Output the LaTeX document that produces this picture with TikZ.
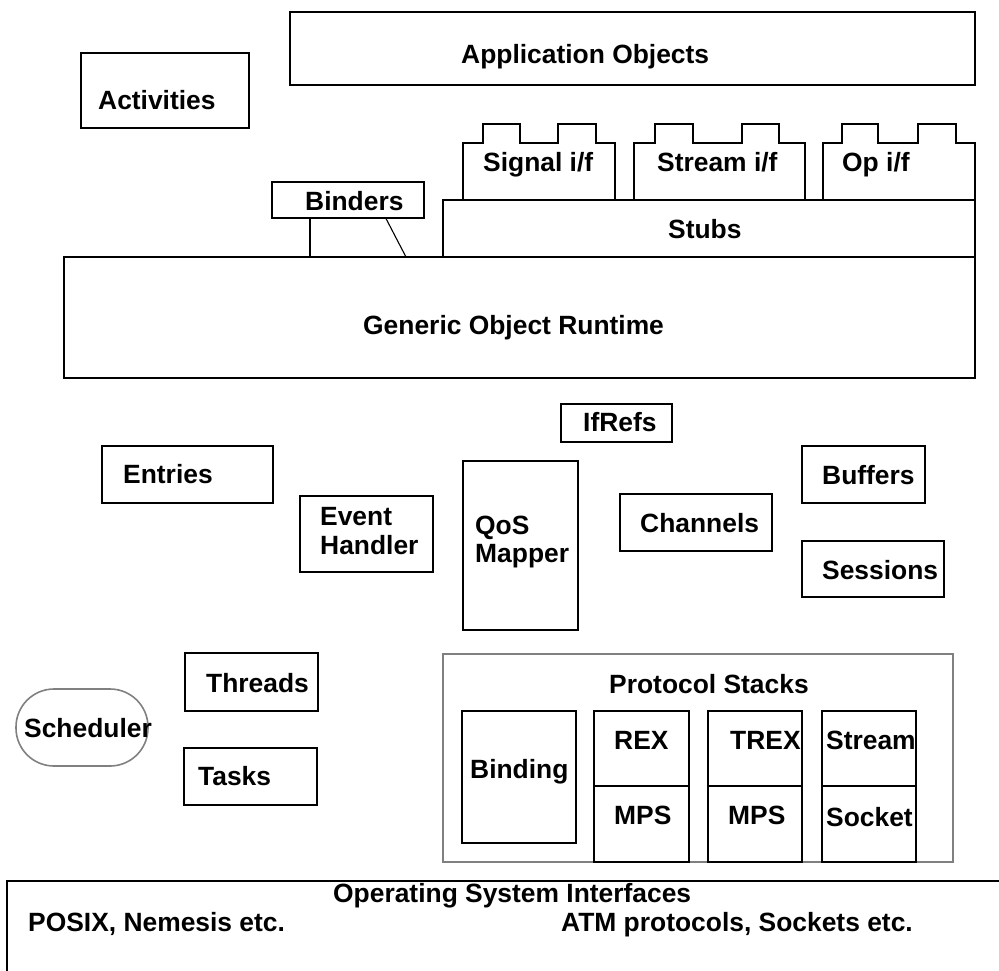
\documentclass[tikz,border=0pt]{standalone}
\usepackage{fontspec}
\setmainfont{Liberation Sans}
\usetikzlibrary{fit}

\begin{document}
\begin{tikzpicture}
[x=1pt,y=-1pt,
  boxDecorate/.style={draw,line width=1.6pt,inner sep=0pt},
  thinDecorate/.style={draw,line width=1.1pt,inner sep=0pt},
  greyDecorate/.style={draw=gray,line width=1.6pt,inner sep=0pt},
  textDecorate/.style={anchor=base west,inner sep=0pt,
    font=\bfseries\fontsize{26.4}{30}\selectfont}]
\clip (0,0) rectangle (999,970);
%% grey frames
\node (protoStacks) [greyDecorate,fit={(443,654) (953,862)}] {};
\node (scheduler) [greyDecorate,rounded corners=38pt,fit={(16,689) (148,766)}] {};
%% boxes
\foreach \boxname/\xa/\ya/\xb/\yb in {
  appObjects/290/12/975/85,
  activities/81/53/249/128,
  generic/64/257/975/378,
  stubs/443/200/975/257,
  ifRefs/561/404/672/442,
  entries/102/446/273/503,
  eventHandler/300/496/433/572,
  qosMapper/463/461/578/630,
  channels/620/494/772/551,
  buffers/802/446/925/503,
  sessions/802/541/944/597,
  threads/185/653/318/711,
  tasks/184/748/317/805,
  binding/462/711/576/843,
  rex/594/711/689/786,
  mpsA/594/786/689/862,
  trex/708/711/802/786,
  mpsB/708/786/802/862,
  streamP/822/711/916/786,
  socket/822/786/916/862,
  osInterfaces/7/881/1010/990}
{
  \node (\boxname) [boxDecorate,fit={(\xa,\ya) (\xb,\yb)}] {};
}
%% interface tabs on the stubs
\foreach \xa/\la/\lb/\lc/\ld/\xb in {
  463/483/520/558/596/615,
  634/655/693/742/779/805,
  823/842/878/918/956/975}
{
  \draw[line width=1.1pt] (\xa,200) -- (\xa,143) -- (\la,143) -- (\la,124)
    -- (\lb,124) -- (\lb,143) -- (\lc,143) -- (\lc,124) -- (\ld,124)
    -- (\ld,143) -- (\xb,143) -- (\xb,200);
}
%% binders flag
\node (binders) [thinDecorate,fit={(272,182) (424,218)}] {};
\draw[line width=1.1pt] (binders.south west -| 310,0) -- (310,257);
\draw[line width=1.1pt] (binders.south west -| 386,0) -- (406,257);
%% labels
\foreach \textname/\x/\y/\words in {
  tApp/461/63/{Application Objects},
  tAct/98/109/{Activities},
  tSignal/483/171/{Signal i/f},
  tStream/657/171/{Stream i/f},
  tOp/842/171/{Op i/f},
  tBinders/305/210/{Binders},
  tStubs/668/238/{Stubs},
  tGeneric/363/334/{Generic Object Runtime},
  tIfRefs/583/431/{IfRefs},
  tEntries/123/483/{Entries},
  tEvent/320/525/{Event},
  tHandler/320/554/{Handler},
  tQos/475/534/{QoS},
  tMapper/475/562/{Mapper},
  tChannels/640/532/{Channels},
  tBuffers/822/484/{Buffers},
  tSessions/822/579/{Sessions},
  tThreads/206/692/{Threads},
  tTasks/198/785/{Tasks},
  tScheduler/24/737/{Scheduler},
  tProto/609/693/{Protocol Stacks},
  tBinding/470/778/{Binding},
  tRex/614/749/{REX},
  tMpsA/614/824/{MPS},
  tTrex/730/749/{TREX},
  tMpsB/728/824/{MPS},
  tStreamP/826/749/{Stream},
  tSocket/826/826/{Socket},
  tOS/333/902/{Operating System Interfaces},
  tPosix/28/931/{POSIX, Nemesis etc.},
  tAtm/561/931/{ATM protocols, Sockets etc.}}
{
  \node (\textname) at (\x,\y) [textDecorate] {\words};
}
\end{tikzpicture}
\end{document}
